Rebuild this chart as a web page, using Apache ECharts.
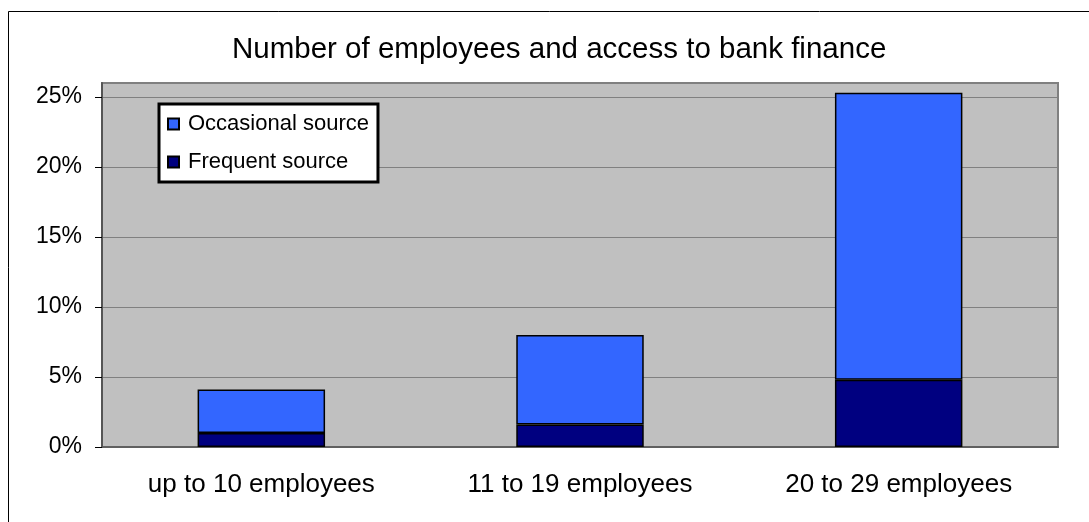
<!DOCTYPE html>
<html>
<head>
<meta charset="utf-8">
<script src="https://cdn.jsdelivr.net/npm/echarts@6/dist/echarts.min.js"></script>
<style>
  html, body { margin: 0; padding: 0; background: #fff; }
  #chart { width: 1089px; height: 522px; }
</style>
</head>
<body>
<div id="chart"></div>
<script>
// Share of firms using bank finance, by firm size
const categories = ['up to 10 employees', '11 to 19 employees', '20 to 29 employees'];
const frequentSource = [0.010, 0.016, 0.048];
const occasionalSource = [0.031, 0.064, 0.205];
const yTicks = [0, 0.05, 0.10, 0.15, 0.20, 0.25];

const FONT = '"Liberation Sans", Arial, sans-serif';

const chart = echarts.init(document.getElementById('chart'), null, { renderer: 'canvas' });

chart.setOption({
  animation: false,
  backgroundColor: '#ffffff',
  textStyle: { fontFamily: FONT, color: '#000' },
  title: {
    text: 'Number of employees and access to bank finance',
    left: 227,
    top: 30,
    textStyle: { fontFamily: FONT, fontSize: 29.5, fontWeight: 'normal', color: '#000' }
  },
  graphic: [{
    type: 'rect',
    shape: { x: 8.5, y: 11.5, width: 1200, height: 600 },
    style: { fill: 'none', stroke: '#000', lineWidth: 1 },
    silent: true,
    z: 100
  }],
  legend: {
    data: ['Occasional source', 'Frequent source'],
    orient: 'vertical',
    left: 159,
    top: 104,
    padding: [9, 9, 9, 8],
    itemGap: 16,
    itemWidth: 11,
    itemHeight: 11,
    icon: 'rect',
    backgroundColor: '#ffffff',
    borderColor: '#000',
    borderWidth: 3,
    formatter: name => '{t|' + name + '}',
    textStyle: {
      fontFamily: FONT,
      fontSize: 22,
      color: '#000',
      rich: { t: { fontFamily: FONT, fontSize: 22, padding: [0, 0, 0, 4] } }
    }
  },
  grid: {
    left: 102,
    right: 31,
    top: 83,
    bottom: 75,
    show: true,
    backgroundColor: '#c0c0c0',
    borderColor: '#808080',
    borderWidth: 2
  },
  xAxis: {
    type: 'category',
    data: categories,
    axisLine: { lineStyle: { color: '#555', width: 1.5 } },
    axisTick: { length: 8, lineStyle: { color: '#000' } },
    axisLabel: { fontFamily: FONT, fontSize: 26, color: '#000', margin: 25 }
  },
  yAxis: {
    type: 'value',
    min: 0,
    max: 0.26,
    interval: 0.05,
    axisLine: { show: true, lineStyle: { color: '#555', width: 2 } },
    axisTick: { show: true, length: 7, lineStyle: { color: '#000' }, customValues: yTicks },
    axisLabel: {
      fontFamily: FONT, fontSize: 23, color: '#000', margin: 20,
      customValues: yTicks,
      formatter: v => (Math.abs(v - 0.26) < 1e-9 ? '' : Math.round(v * 100) + '%')
    },
    splitLine: { lineStyle: { color: '#808080', width: 1 } }
  },
  series: [
    {
      name: 'Frequent source',
      type: 'bar',
      stack: 'finance',
      barWidth: '40%',
      data: frequentSource,
      itemStyle: { color: '#000080', borderColor: '#000', borderWidth: 1.5 }
    },
    {
      name: 'Occasional source',
      type: 'bar',
      stack: 'finance',
      barWidth: '40%',
      data: occasionalSource,
      itemStyle: { color: '#3366ff', borderColor: '#000', borderWidth: 1.5 }
    }
  ]
});
</script>
</body>
</html>
